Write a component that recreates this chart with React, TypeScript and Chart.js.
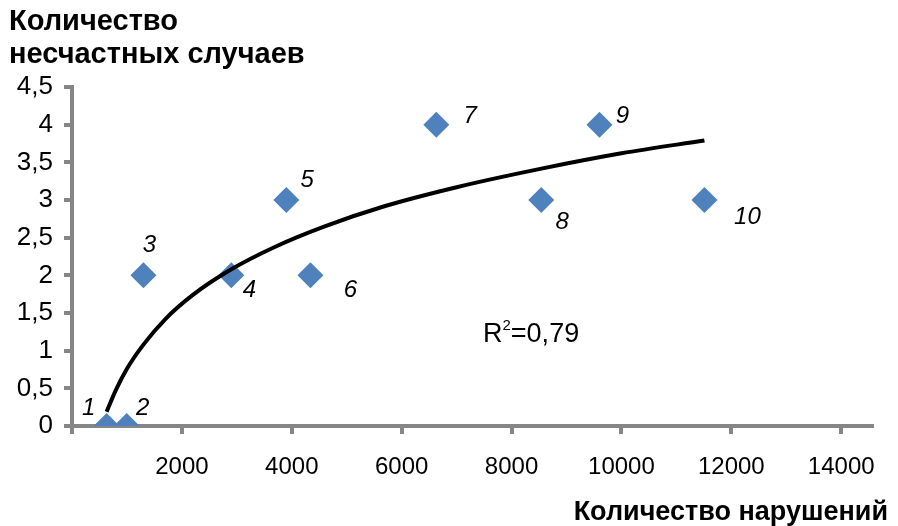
import React, { useEffect, useRef } from "react";
import { Chart, registerables } from "chart.js";

Chart.register(...registerables);

// ---- data ----
const violations = [630, 995, 1300, 2900, 3900, 4340, 6630, 8540, 9600, 11510];
const accidents = [0, 0, 2, 2, 3, 2, 4, 3, 4, 3];
const pointLabels = ["1", "2", "3", "4", "5", "6", "7", "8", "9", "10"];

// logarithmic trend line
const trendX = [630, 800, 1000, 1300, 1700, 2200, 2900, 3700, 4600, 5700, 7000, 8500, 10000, 11510];
const trendY = [0.19, 0.48, 0.76, 1.08, 1.42, 1.74, 2.08, 2.38, 2.65, 2.92, 3.17, 3.41, 3.62, 3.79];

const xTicks = [0, 2000, 4000, 6000, 8000, 10000, 12000, 14000];
const yTicks = [0, 0.5, 1, 1.5, 2, 2.5, 3, 3.5, 4, 4.5];

const rSquared = "0,79";
const yTitle = ["Количество", "несчастных случаев"];
const xTitle = "Количество нарушений";

// ---- styles / layout ----
const FONT = '"Liberation Sans", Arial, sans-serif';
const AXIS = "#868686";
const MARKER = "#4F81BD";
const labelOffsets: [number, number][] = [
  [-18, -18], [16, -18], [6, -30], [18, 15], [21, -20],
  [40, 15], [34, -8], [21, 22], [23, -8], [43, 17],
];

const textPlugin = {
  id: "texts",
  afterDatasetsDraw(chart: any) {
    const { ctx, scales } = chart;
    const xs = scales.x;
    const ys = scales.y;
    ctx.save();
    ctx.fillStyle = "#000";
    ctx.font = `italic 24px ${FONT}`;
    ctx.textAlign = "center";
    ctx.textBaseline = "middle";
    violations.forEach((v, i) => {
      const px = xs.getPixelForValue(v) + labelOffsets[i][0];
      const py = ys.getPixelForValue(accidents[i]) + labelOffsets[i][1];
      ctx.fillText(pointLabels[i], px, py);
    });
    // R^2 annotation
    ctx.textAlign = "left";
    ctx.textBaseline = "alphabetic";
    let rx = 483;
    const rb = 342;
    ctx.font = `27px ${FONT}`;
    ctx.fillText("R", rx, rb);
    rx += ctx.measureText("R").width;
    ctx.font = `15px ${FONT}`;
    ctx.fillText("2", rx, rb - 12);
    rx += ctx.measureText("2").width;
    ctx.font = `27px ${FONT}`;
    ctx.fillText("=" + rSquared, rx, rb);
    // titles
    ctx.font = `bold 29px ${FONT}`;
    ctx.fillText(yTitle[0], 9, 30);
    ctx.fillText(yTitle[1], 9, 63);
    ctx.textAlign = "right";
    ctx.font = `bold 27px ${FONT}`;
    ctx.fillText(xTitle, 888, 520);
    ctx.restore();
  },
};

export default function App() {
  const ref = useRef<HTMLCanvasElement | null>(null);
  useEffect(() => {
    if (!ref.current) return;
    const chart = new Chart(ref.current, {
      type: "scatter",
      data: {
        datasets: [
          {
            type: "line",
            label: "trend",
            data: trendX.map((x, i) => ({ x, y: trendY[i] })),
            borderColor: "#000",
            borderWidth: 4,
            pointRadius: 0,
            fill: false,
            cubicInterpolationMode: "monotone",
            order: 0,
          } as any,
          {
            label: "points",
            data: violations.map((x, i) => ({ x, y: accidents[i] })),
            pointStyle: "rectRot",
            pointRadius: 13,
            pointBackgroundColor: MARKER,
            pointBorderWidth: 0,
            borderWidth: 0,
            order: 1,
          } as any,
        ],
      },
      options: {
        animation: false,
        responsive: false,
        maintainAspectRatio: false,
        layout: { padding: { top: 87, right: 26, bottom: 40, left: 0 } },
        plugins: { legend: { display: false }, tooltip: { enabled: false }, title: { display: false } },
        scales: {
          x: {
            type: "linear",
            min: 0,
            max: 14560,
            afterBuildTicks: (s: any) => {
              s.ticks = xTicks.map((v) => ({ value: v }));
            },
            afterFit: (s: any) => {
              s.height = 60;
            },
            grid: { drawOnChartArea: false, drawTicks: true, tickLength: 8, color: AXIS, lineWidth: 4 },
            border: { color: AXIS, width: 4 },
            ticks: {
              font: { family: FONT, size: 24 },
              color: "#000",
              padding: 19,
              autoSkip: false,
              maxRotation: 0,
              callback: (v: any) => (v === 0 ? "" : String(v)),
            },
          },
          y: {
            type: "linear",
            min: 0,
            max: 4.5,
            afterBuildTicks: (s: any) => {
              s.ticks = yTicks.map((v) => ({ value: v }));
            },
            afterFit: (s: any) => {
              s.width = 72;
            },
            grid: { drawOnChartArea: false, drawTicks: true, tickLength: 8, color: AXIS, lineWidth: 4 },
            border: { color: AXIS, width: 4 },
            ticks: {
              font: { family: FONT, size: 26 },
              color: "#000",
              padding: 11,
              autoSkip: false,
              callback: (v: any) => String(v).replace(".", ","),
            },
          },
        },
      },
      plugins: [textPlugin],
    } as any);
    return () => chart.destroy();
  }, []);
  return (
    <div style={{ position: "fixed", left: 0, top: 0, width: 898, height: 526, background: "#fff" }}>
      <canvas ref={ref} width={898} height={526} style={{ width: 898, height: 526, display: "block" }} />
    </div>
  );
}
